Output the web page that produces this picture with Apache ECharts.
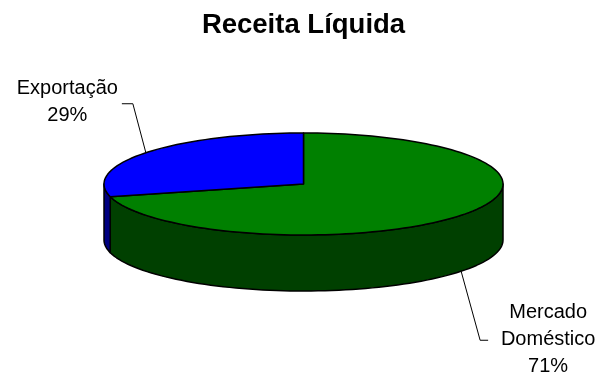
<!DOCTYPE html>
<html>
<head>
<meta charset="utf-8">
<script src="https://cdn.jsdelivr.net/npm/echarts@6/dist/echarts.min.js"></script>
<style>
  html, body { margin: 0; padding: 0; background: #fff; }
  #chart-container { width: 607px; height: 377px; }
</style>
</head>
<body>
<div id="chart-container"></div>
<script>
const categories = ['Mercado Doméstico', 'Exportação']
const labelNames = ['Mercado\nDoméstico', 'Exportação']
const values = [71, 29]

const topColors = ['#008000', '#0000FF']
const sideColors = ['#004000', '#000080']

// ellipse geometry of the "3d" pie
const cx = 303.5
const cy = 184
const rx = 199.5
const ry = 51
const depth = 56

// leader line elbow / label offsets per slice
const labelLayout = [
  {elbow: [19, 69], run: 8, textDx: 60, textDy: -1},
  {elbow: [-13, -49], run: -11, textDx: -54.5, textDy: -2}
]

const total = values.reduce((a, b) => a + b, 0)

const pt = (a, dy) => [cx + rx * Math.sin(a), cy - ry * Math.cos(a) + (dy || 0)]

const arc = (from, to, dy) => {
  const n = Math.max(2, Math.ceil(Math.abs(to - from) / (Math.PI / 90)))
  const res = []
  for (let k = 0; k <= n; k++) {
    res.push(pt(from + (to - from) * k / n, dy))
  }
  return res
}

const edge = {stroke: '#000', lineWidth: 1.5, lineJoin: 'round'}

function renderItem(params, api) {
  const i = params.dataIndex
  let start = 0
  for (let k = 0; k < i; k++) start += values[k]
  const a1 = start / total * Math.PI * 2
  const a2 = (start + values[i]) / total * Math.PI * 2
  const children = []

  // front side wall
  const s1 = Math.max(a1, Math.PI / 2)
  const s2 = Math.min(a2, Math.PI * 1.5)
  if (s2 > s1) {
    const pts = arc(s1, s2, 0).concat(arc(s2, s1, depth))
    children.push({
      type: 'polygon',
      shape: {points: pts},
      style: Object.assign({fill: sideColors[i]}, edge)
    })
  }

  // top face
  children.push({
    type: 'polygon',
    shape: {points: [[cx, cy]].concat(arc(a1, a2, 0))},
    style: Object.assign({fill: topColors[i]}, edge)
  })

  // leader line + label
  const mid = (a1 + a2) / 2
  const front = Math.cos(mid) < 0
  const anchor = pt(mid, front ? depth : 0)
  const lay = labelLayout[i]
  const elbow = [anchor[0] + lay.elbow[0], anchor[1] + lay.elbow[1]]
  const end = [elbow[0] + lay.run, elbow[1]]
  children.push({
    type: 'polyline',
    shape: {points: [anchor, elbow, end]},
    style: {stroke: '#000', lineWidth: 1, fill: null}
  })
  const pct = Math.round(values[i] / total * 100) + '%'
  children.push({
    type: 'text',
    style: {
      text: labelNames[i] + '\n' + pct,
      x: end[0] + lay.textDx,
      y: end[1] + lay.textDy,
      align: 'center',
      verticalAlign: 'middle',
      fontSize: 20,
      fontFamily: 'Liberation Sans',
      lineHeight: 27,
      fill: '#000'
    }
  })

  return {type: 'group', children: children}
}

const dom = document.getElementById('chart-container')
const myChart = echarts.init(dom, null, {renderer: 'canvas'})

const options = {
  animation: false,
  backgroundColor: '#fff',
  title: {
    text: 'Receita Líquida',
    left: 'center',
    top: 11,
    padding: 0,
    textStyle: {
      fontFamily: 'Liberation Sans',
      fontSize: 27.5,
      fontWeight: 'bold',
      color: '#000'
    }
  },
  series: [
    {
      type: 'custom',
      coordinateSystem: 'none',
      silent: true,
      renderItem: renderItem,
      data: values.map((v, i) => ({name: categories[i], value: v}))
    }
  ]
}

myChart.setOption(options)
window.addEventListener('resize', myChart.resize)
</script>
</body>
</html>
